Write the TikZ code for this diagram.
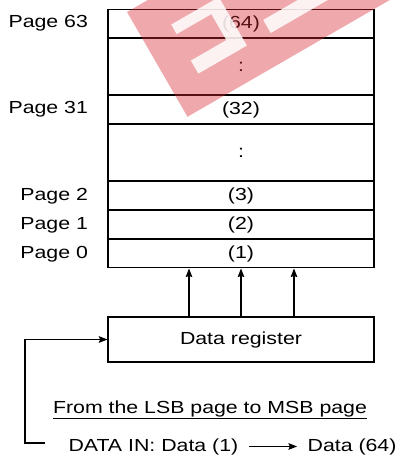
\documentclass[tikz,border=0pt]{standalone}
\usepackage{fontspec}
\setmainfont{Liberation Sans}[FakeStretch=1.22]
\usetikzlibrary{positioning,arrows.meta}
\definecolor{markred}{RGB}{214,40,50}
\begin{document}
\begin{tikzpicture}[x=0.75pt, y=-0.75pt, line width=0.8pt,
  >={Stealth[length=6.5pt,width=5pt,inset=1pt]},
  every node/.style={font=\fontsize{13.1pt}{15pt}\selectfont},
  pagerow/.style={draw, minimum width=199.5pt, minimum height=21pt, inner sep=0pt},
  gaprow/.style={pagerow, minimum height=42pt},
  pagelabel/.style={inner sep=0pt}]
\useasboundingbox (0,0) rectangle (400,457);
\node[pagerow, anchor=north] (row64) at (241,9) {(64)};
\node[gaprow, below=0pt of row64] (gap2) {:};
\node[pagerow, below=0pt of gap2] (row32) {(32)};
\node[gaprow, below=0pt of row32] (gap1) {:};
\node[pagerow, below=0pt of gap1] (row3) {(3)};
\node[pagerow, below=0pt of row3] (row2) {(2)};
\node[pagerow, below=0pt of row2] (row1) {(1)};
\node[pagelabel, left=14.25pt of row64] (lbl63) {Page 63};
\node[pagelabel, left=14.25pt of row32] (lbl31) {Page 31};
\node[pagelabel, left=14.25pt of row3] (lbl2) {Page 2};
\node[pagelabel, left=14.25pt of row2] (lbl1) {Page 1};
\node[pagelabel, left=14.25pt of row1] (lbl0) {Page 0};
\node[pagerow, minimum height=33.75pt, below=36pt of row1] (reg) {Data register};
\draw[->] ([xshift=-39pt]reg.north) -- ([xshift=-39pt]row1.south);
\draw[->] (reg.north) -- (row1.south);
\draw[->] ([xshift=39.75pt]reg.north) -- ([xshift=39.75pt]row1.south);
\coordinate (loopend) at (45,443);
\draw[->] (loopend) -- ++(-20,0) |- (reg.west);
\node[pagelabel, anchor=base] (order) at (210,413) {\underline{From the LSB page to MSB page}};
\node[pagelabel, anchor=base west] (datain) at (68,451) {DATA IN: Data (1)};
\node[pagelabel, anchor=base east] (dataout) at (397,451) {Data (64)};
\draw[->, shorten <=7.5pt, shorten >=7.5pt] (datain) -- (dataout);
\begin{scope}
\clip (0,0) rectangle (400,457);
\begin{scope}[shift={(127,12)}, x={(0.6495pt,0.375pt)}, y={(0.375pt,-0.6495pt)}]
\fill[markred, opacity=0.4] (0,0) -- (400,0) -- (400,121) -- (0,121) -- cycle;
\fill[white, opacity=0.85] (32,33) -- (87,33) -- (87,89) -- (31,89) -- (31,74) -- (72,74) -- (72,44) -- (32,44) -- cycle
  (114,75) -- (260,75) -- (260,90) -- (114,90) -- cycle;
\end{scope}
\end{scope}
\end{tikzpicture}
\end{document}
